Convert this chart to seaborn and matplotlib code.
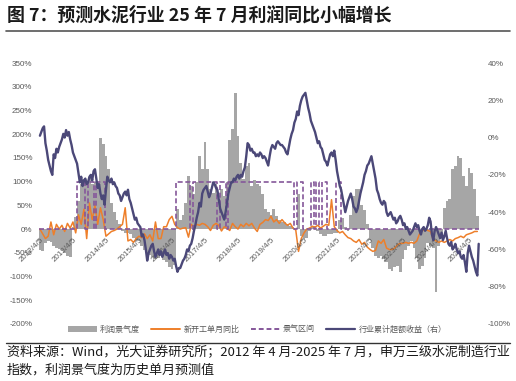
import numpy as np
import pandas as pd
import matplotlib
matplotlib.use("Agg")
import matplotlib.pyplot as plt
from matplotlib.lines import Line2D
from matplotlib.patches import Patch
import seaborn as sns

# ---------------- data (monthly, 2012/4 .. 2025/7) ----------------
year_labels = [f"{y}/4/5" for y in range(2012, 2026)]

profit = [-45, -47, -30, -25, -28, -35, -40, -42, -47, -50, -56, -58,
          5, 25, 60, 95, 105, 100, 110, 95, 100, 100, 192, 180,
          155, 126, 55, 35, 20, 10, -5, -8, -8, -10, -18, -22,
          -25, -35, -45, -50, -55, -58, -62, -60, -55, -65, -70, -80,
          -84, -75, 42, 20, 30, 56, 112, 90, 75, 100, 154, 126,
          184, 126, 85, 77, 95, 63, 84, 70, 100, 188, 210, 287,
          196, 140, 105, 133, 140, 91, 104, 95, 91, 75, 42, 35,
          30, 42, 28, 20, 14, 14, 10, 7, 5, 0, 75, -14,
          -21, -18, -5, 5, 7, -5, -10, -14, -14, -10, -10, -8,
          -8, 20, 24, 5, -5, 30, 69, 84, 84, 50, 40, 10,
          -22, -40, -57, -60, -56, -63, -70, -84, -88, -80, -77, -91,
          -63, -45, -35, -25, -40, -60, -84, -78, -60, -30, -35, -40,
          -133, -35, -15, 45, 60, 63, 126, 132, 154, 150, 112, 90,
          129, 119, 84, 28]

new_start = [0, -10, -20, -15, 15, -12, 10, 0, 8, -5, 12, 2,
             15, -8, 30, 10, 42, -20, 55, 20, 50, 10, 45, 20,
             -15, -10, -5, -3, 0, 5, 10, 45, -25, -22, -28, -20,
             -15, -18, -10, -20, -12, -25, 15, -20, -20, 5, 5, 20,
             27, 10, 3, 0, 2, 3, -17, 10, 5, 10, 8, 12,
             10, 5, -3, 8, 12, 8, -4, 5, 2, -3, 12, 5,
             0, 10, 5, 12, 7, 12, 2, -5, 10, 14, 20, 18,
             27, 15, 20, 12, 20, 13, 8, 12, 2, -2, -47, -20,
             -8, 0, 2, 6, 4, 8, 2, 6, 10, 8, 62, 5,
             -3, -8, -5, -12, -18, -20, -25, -28, -22, -32, -28, -38,
             -43, -47, -45, -25, -30, -22, -40, -43, -43, -40, -33, -30,
             -30, -28, -30, -28, -30, -25, -10, -3, 0, -3, -5, -22,
             -25, -28, -25, -28, -25, -22, -25, -20, -18, -15, -18, -12,
             -10, -8, -5, -5]

boom_months = ([14, 15, 16, 18, 19, 21, 22, 23]
               + list(range(50, 55)) + list(range(56, 65)) + [66, 67]
               + list(range(69, 93)) + [94, 95]
               + [99, 101, 103, 104, 108, 109])

# cumulative excess return (right axis), two readings per month
ex_2012 = [1, 3, 5, 6, -3, -7, -12, -15, -18, -20, -9, -11, -6, -8, -5, -3, -1, 2, 0, 4, 1, 3, -1, -4]
ex_2013 = [-8, -10, -12, -14, -19, -24, -21, -26, -23, -22, -25, -24, -21, -20, -23, -18, -17, -22, -27, -25, -30, -33, -31, -36]
ex_2014 = [-28, -21, -23, -24, -22, -25, -24, -26, -27, -30, -31, -34, -32, -30, -29, -31, -28, -33, -35, -38, -41, -44, -43, -46]
ex_2015 = [-47, -48, -53, -52, -55, -60, -66, -62, -60, -58, -57, -61, -64, -62, -60, -63, -61, -64, -62, -60, -63, -62, -65, -63]
ex_2016 = [-64, -66, -65, -69, -72, -70, -70, -68, -66, -65, -63, -60, -61, -58, -57, -54, -50, -47, -43, -40, -35, -37, -30, -28]
ex_2017 = [-27, -26, -29, -32, -30, -27, -24, -25, -27, -28, -33, -38, -40, -42, -44, -40, -35, -30, -27, -24, -24, -22, -23, -21]
ex_2018 = [-20, -22, -20, -21, -18, -16, -10, -3, -4, -7, -6, -8, -8, -10, -9, -10, -8, -9, -11, -10, -11, -13, -15, -10]
ex_2019 = [-6, -4, -5, -6, -3, -2, -3, -4, -4, -5, -6, -8, -9, -5, -1, 2, 4, 8, 10, 14, 12, 17, 20, 22]
ex_2020 = [23, 24, 20, 16, 13, 9, 7, 5, 3, 0, -3, -2, -5, -6, -9, -12, -13, -15, -12, -9, -8, -10, -7, -12]
ex_2021 = [-18, -22, -26, -28, -32, -36, -40, -37, -34, -32, -30, -33, -37, -38, -40, -38, -34, -30, -27, -24, -20, -18, -15, -14]
ex_2022 = [-12, -10, -14, -18, -22, -28, -30, -33, -35, -36, -34, -35, -40, -42, -41, -40, -42, -44, -43, -46, -45, -43, -42, -44]
ex_2023 = [-47, -46, -49, -48, -50, -52, -51, -50, -48, -46, -48, -47, -50, -52, -49, -48, -50, -49, -47, -43, -45, -52, -55, -50]
ex_2024 = [-48, -50, -52, -54, -51, -55, -53, -50, -54, -57, -58, -56, -60, -59, -57, -60, -62, -61, -64, -65, -63, -67, -72, -62]
ex_2025 = [-58, -61, -64, -66, -69, -72, -74, -57]

# ---------------- derived tables ----------------
n = len(profit)
m = np.arange(n)
excess = (ex_2012 + ex_2013 + ex_2014 + ex_2015 + ex_2016 + ex_2017 + ex_2018
          + ex_2019 + ex_2020 + ex_2021 + ex_2022 + ex_2023 + ex_2024 + ex_2025)
ex_x = np.arange(len(excess)) * 0.5
boom = np.array([100 if i in boom_months else 0 for i in range(n)])
boom_x = np.append(m - 0.5, n - 0.5)
boom_y = np.append(boom, boom[-1])

df = pd.DataFrame({"m": m, "profit": profit, "new_start": new_start})

# ---------------- style ----------------
sns.set_theme(style="white")
plt.rcParams["font.family"] = ["Liberation Sans", "Noto Sans CJK SC", "DejaVu Sans"]
cjk = ["Noto Sans CJK SC", "DejaVu Sans"]

GRAY = "#A6A6A6"
ORANGE = "#EE7F2A"
PURPLE = "#85579A"
NAVY = "#4B4878"
TXT = "#595959"

fig = plt.figure(figsize=(5.16, 3.81), dpi=100)
ax = fig.add_axes([38 / 516, 1 - 324 / 381, 444 / 516, 261 / 381])
ax2 = ax.twinx()

sns.barplot(data=df, x="m", y="profit", native_scale=True, width=1.0,
            color=GRAY, saturation=1, linewidth=0, errorbar=None, ax=ax)
for p in ax.patches:
    p.set_zorder(1)
sns.lineplot(data=df, x="m", y="new_start", color=ORANGE, lw=1.1, ax=ax, zorder=3)
sns.lineplot(x=boom_x, y=boom_y, color=PURPLE, lw=1.2, drawstyle="steps-post", ax=ax, zorder=4)
ax.lines[-1].set_dashes([3, 1.6])
sns.lineplot(x=ex_x, y=excess, color=NAVY, lw=1.7, ax=ax2, zorder=5)

# x axis crosses at 0 (set before ticks: set_position resets ticks)
ax.spines["bottom"].set_position(("data", 0))
for a in (ax, ax2):
    for s in a.spines.values():
        s.set_visible(False)
    a.set_xlabel("")
    a.set_ylabel("")
    a.grid(False)

ax.set_xlim(-0.7, 160.7)
ax.set_ylim(-200, 350)
ax2.set_ylim(-100, 40)

lt = np.arange(-200, 351, 50)
ax.set_yticks(lt, [f"{v}%" for v in lt])
rt = np.arange(-100, 41, 20)
ax2.set_yticks(rt, [f"{v}%" for v in rt])

xt = np.arange(0, n, 12)
ax.set_xticks(xt, year_labels[: len(xt)], rotation=45, ha="right", va="top",
              rotation_mode="anchor")

ax.xaxis.set_zorder(10)
ax.tick_params(axis="x", length=0, pad=5, labelsize=5.8, labelcolor=TXT)
ax.tick_params(axis="y", length=0, pad=4, labelsize=5.8, labelcolor=TXT)
ax2.tick_params(axis="y", length=0, pad=4, labelsize=5.8, labelcolor=TXT)

# legend
handles = [Patch(facecolor=GRAY, edgecolor="none"),
           Line2D([], [], color=ORANGE, lw=1.4),
           Line2D([], [], color=PURPLE, lw=1.4, dashes=[2.5, 1.5]),
           Line2D([], [], color=NAVY, lw=1.6)]
labels = ["利润景气度", "新开工单月同比", "景气区间", "行业累计超额收益（右）"]
leg = fig.legend(handles, labels, loc="center", bbox_to_anchor=(257 / 516, 1 - 329 / 381),
                 ncol=4, frameon=False, handlelength=3.6, handletextpad=0.4,
                 columnspacing=1.4, prop={"family": cjk, "size": 5.8})
for t in leg.get_texts():
    t.set_color(TXT)

# title, rules, footer
fig.text(7 / 516, 1 - 15 / 381, "图 7：预测水泥行业 25 年 7 月利润同比小幅增长",
         family=cjk, fontsize=12.9, fontweight="bold", color="#1A1A1A", va="center", ha="left")
fig.add_artist(Line2D([6 / 516, 510 / 516], [1 - 31 / 381] * 2, color="#555555", lw=1.2))
fig.add_artist(Line2D([6 / 516, 510 / 516], [1 - 342.7 / 381] * 2, color="#333333", lw=1.0))
fig.text(7 / 516, 1 - 352.5 / 381,
         "资料来源：Wind，光大证券研究所；2012 年 4 月-2025 年 7 月，申万三级水泥制造行业",
         family=cjk, fontsize=9.4, color="#1A1A1A", va="center", ha="left")
fig.text(7 / 516, 1 - 370.5 / 381, "指数，利润景气度为历史单月预测值",
         family=cjk, fontsize=9.4, color="#1A1A1A", va="center", ha="left")

fig.savefig("out.png", dpi=100)
